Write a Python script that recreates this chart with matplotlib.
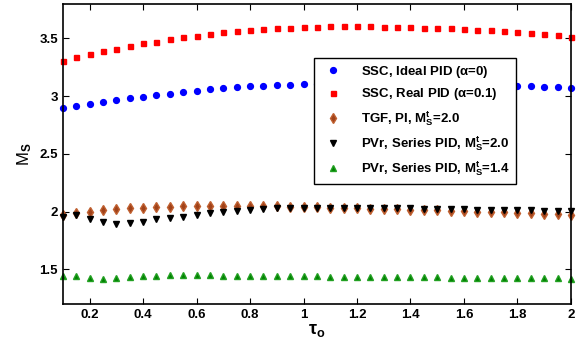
import numpy as np
import matplotlib
matplotlib.use('Agg')
import matplotlib.pyplot as plt

plt.rcParams['font.family'] = ['Liberation Sans', 'DejaVu Sans']
plt.rcParams['font.weight'] = 'bold'
plt.rcParams['mathtext.fontset'] = 'custom'
plt.rcParams['mathtext.rm'] = 'Liberation Sans:bold'
plt.rcParams['mathtext.it'] = 'Liberation Sans:bold'
plt.rcParams['mathtext.bf'] = 'Liberation Sans:bold'

tau = np.round(np.arange(0.1, 2.0001, 0.05), 2)

ssc_ideal = [2.896, 2.913, 2.933, 2.950, 2.965, 2.983, 2.997, 3.011, 3.023, 3.037,
             3.049, 3.061, 3.069, 3.078, 3.084, 3.089, 3.095, 3.100, 3.104, 3.107,
             3.109, 3.110, 3.111, 3.111, 3.110, 3.109, 3.107, 3.105, 3.103, 3.100,
             3.098, 3.095, 3.092, 3.090, 3.087, 3.084, 3.081, 3.078, 3.075]
ssc_real = [3.309, 3.338, 3.367, 3.390, 3.410, 3.437, 3.457, 3.471, 3.494, 3.509,
            3.523, 3.541, 3.552, 3.563, 3.576, 3.581, 3.587, 3.593, 3.598, 3.602,
            3.604, 3.605, 3.605, 3.604, 3.603, 3.601, 3.598, 3.595, 3.591, 3.587,
            3.582, 3.576, 3.570, 3.563, 3.556, 3.548, 3.539, 3.528, 3.513]
tgf_pi = [1.970, 1.990, 2.000, 2.010, 2.020, 2.030, 2.035, 2.040, 2.042, 2.045,
          2.048, 2.050, 2.050, 2.050, 2.050, 2.048, 2.046, 2.044, 2.041, 2.038,
          2.035, 2.032, 2.029, 2.026, 2.023, 2.020, 2.016, 2.013, 2.010, 2.006,
          2.003, 2.000, 1.996, 1.993, 1.989, 1.985, 1.981, 1.977, 1.973]
pvr_20 = [1.957, 1.968, 1.937, 1.908, 1.897, 1.900, 1.912, 1.932, 1.943, 1.957,
          1.974, 1.988, 2.000, 2.009, 2.017, 2.023, 2.029, 2.031, 2.034, 2.035,
          2.035, 2.035, 2.034, 2.033, 2.032, 2.030, 2.028, 2.026, 2.024, 2.022,
          2.020, 2.018, 2.016, 2.014, 2.012, 2.010, 2.008, 2.006, 2.004]
pvr_14 = [1.444, 1.439, 1.427, 1.418, 1.427, 1.436, 1.442, 1.444, 1.447, 1.448,
          1.448, 1.447, 1.446, 1.445, 1.444, 1.443, 1.442, 1.441, 1.440, 1.439,
          1.438, 1.437, 1.436, 1.435, 1.434, 1.433, 1.432, 1.431, 1.430, 1.429,
          1.428, 1.427, 1.426, 1.425, 1.424, 1.423, 1.422, 1.421, 1.420]

labels = [r'SSC, Ideal PID ($\alpha$=0)',
          r'SSC, Real PID ($\alpha$=0.1)',
          r'TGF, PI, M$_\mathrm{S}^\mathrm{t}$=2.0',
          r'PVr, Series PID, M$_\mathrm{S}^\mathrm{t}$=2.0',
          r'PVr, Series PID, M$_\mathrm{S}^\mathrm{t}$=1.4']

fig = plt.figure(figsize=(5.82, 3.49), dpi=100)
ax = fig.add_axes([0.108, 0.129, 0.873, 0.86])

ax.plot(tau, ssc_ideal, 'o', color='#0000ff', ms=4.2, mec='#0000ff', label=labels[0], clip_on=False)
ax.plot(tau, ssc_real, 's', color='#ff0000', ms=3.6, mec='#ff0000', label=labels[1], clip_on=False)
ax.plot(tau, tgf_pi, 'd', color='#a0421a', ms=5.5, mec='#c06030', label=labels[2], clip_on=False)
ax.plot(tau, pvr_20, 'v', color='black', ms=5, label=labels[3], clip_on=False)
ax.plot(tau, pvr_14, '^', color='#008000', ms=5, mec='#22a022', label=labels[4], clip_on=False)

ax.set_xlim(0.1, 2.0)
ax.set_ylim(1.2, 3.8)
ax.set_xticks([0.2, 0.4, 0.6, 0.8, 1.0, 1.2, 1.4, 1.6, 1.8, 2.0])
ax.set_xticklabels(['0.2', '0.4', '0.6', '0.8', '1', '1.2', '1.4', '1.6', '1.8', '2'])
ax.set_yticks([1.5, 2, 2.5, 3, 3.5])
ax.set_yticklabels(['1.5', '2', '2.5', '3', '3.5'])
ax.tick_params(direction='in', top=True, right=True, labelsize=9.5, length=4, width=0.8)
for s in ax.spines.values():
    s.set_linewidth(1.2)

ax.set_xlabel(r'$\tau_\mathrm{o}$', fontsize=13, labelpad=1)
ax.set_ylabel(r'M$_\mathrm{S}$', fontsize=12, labelpad=4)

leg = ax.legend(loc='upper left', bbox_to_anchor=(0.494, 0.82), fontsize=9.5,
                frameon=True, fancybox=False, edgecolor='black', framealpha=1,
                handletextpad=1.1, handlelength=2.0, labelspacing=0.5,
                borderpad=0.45, borderaxespad=0, numpoints=1)
leg.get_frame().set_linewidth(1.0)

fig.savefig('out.png', dpi=100)
